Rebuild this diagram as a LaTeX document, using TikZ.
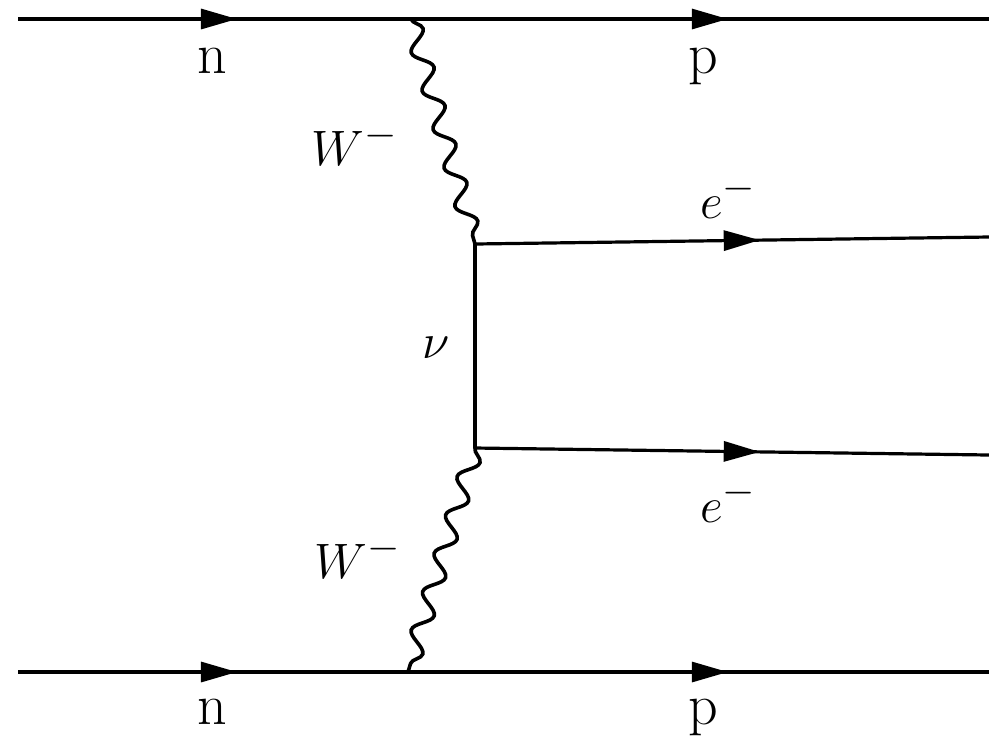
\documentclass[tikz,border=0pt]{standalone}
\usetikzlibrary{arrows.meta,decorations.pathmorphing,decorations.markings}
\begin{document}
\begin{tikzpicture}[x=0.5pt,y=-0.5pt,
  line width=1.6pt,
  lbl/.style={font=\fontsize{29}{34}\selectfont, inner sep=0pt, anchor=base},
  twoarrows/.style={postaction={decorate},decoration={markings,
     mark=at position 0.2255 with {\arrow{Triangle[length=18pt,width=10pt]}},
     mark=at position 0.731 with {\arrow{Triangle[length=18pt,width=10pt]}}}},
  onearrow/.style={postaction={decorate},decoration={markings,
     mark=at position 0.554 with {\arrow{Triangle[length=18pt,width=10pt]}}}},
  boson/.style={line width=1.8pt,decorate,decoration={snake,amplitude=4.5pt,segment length=20pt}}]
\useasboundingbox (0,0) rectangle (989,741);
\coordinate (tl) at (18,19);
\coordinate (tr) at (989,19);
\coordinate (v1) at (411,19);
\coordinate (v2) at (475,244);
\coordinate (v3) at (475,448);
\coordinate (v4) at (408,672);
\coordinate (e1) at (989,237);
\coordinate (e2) at (989,455);
\coordinate (bl) at (18,672);
\coordinate (br) at (989,672);
\draw[twoarrows] (tl) -- (tr);
\draw[twoarrows] (bl) -- (br);
\draw[onearrow] (v2) -- (e1);
\draw[onearrow] (v3) -- (e2);
\draw (v2) -- (v3);
\draw[boson] (v1) -- (v2);
\draw[boson] (v3) -- (v4);
\node[lbl] (n1) at (212,73) {n};
\node[lbl] (p1) at (703,73) {p};
\node[lbl] (n2) at (212,724) {n};
\node[lbl] (p2) at (703,724) {p};
\node[lbl] (w1) at (355,165) {$W^-$};
\node[lbl] (w2) at (358,578) {$W^-$};
\node[lbl] (nu) at (436,358) {$\nu$};
\node[lbl] (ea) at (728,218) {$e^-$};
\node[lbl] (eb) at (728,522) {$e^-$};
\end{tikzpicture}
\end{document}
